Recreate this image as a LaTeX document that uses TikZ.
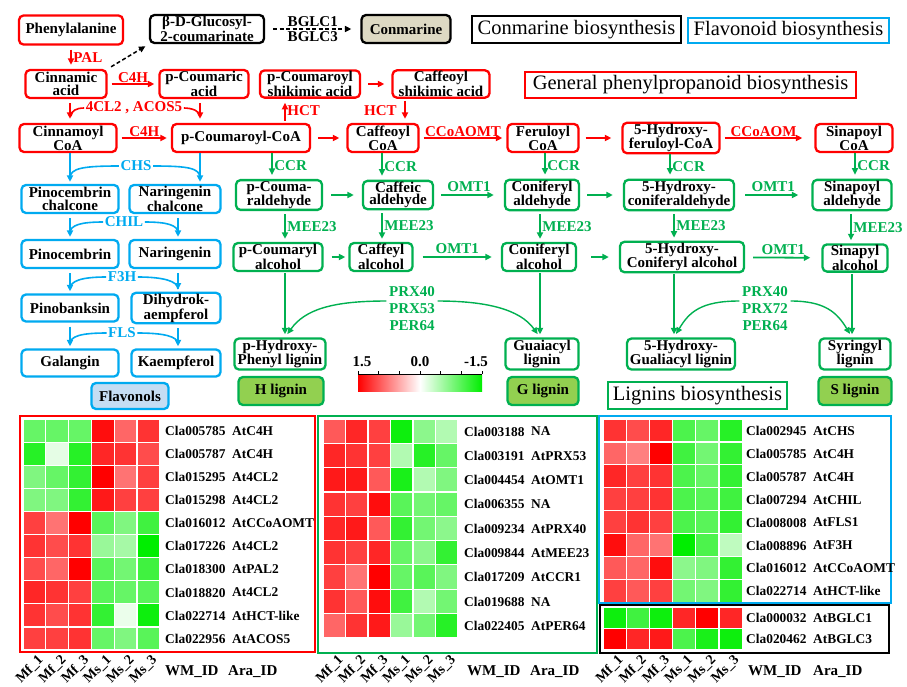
\documentclass[tikz,border=0pt]{standalone}
\usepackage{fontspec}
\setmainfont{Liberation Serif}
\usetikzlibrary{arrows.meta,calc}
\definecolor{cR}{RGB}{255,0,0}
\definecolor{cB}{RGB}{0,170,240}
\definecolor{cG}{RGB}{0,176,80}
\definecolor{hmR}{RGB}{255,0,0}
\definecolor{hmG}{RGB}{0,238,0}
\definecolor{cTan}{RGB}{221,217,195}
\definecolor{cLB}{RGB}{197,221,243}
\definecolor{cLG}{RGB}{146,208,80}
\newcommand\fb{\fontsize{15}{12.5}\selectfont\bfseries}
\newcommand\fen{\fontsize{15}{17}\selectfont\bfseries}
\newcommand\fcl{\fontsize{14}{15}\selectfont\bfseries}
\newcommand\ftt{\fontsize{20.5}{22}\selectfont}
\newcommand\fhm{\fontsize{13.4}{15}\selectfont\bfseries}
\newcommand\hmcell[5]{%
  \pgfmathsetmacro\hmp{abs(#5)*100}%
  \ifdim #5pt>0pt \def\hmcn{hmR}\else\def\hmcn{hmG}\fi
  \edef\hmcol{\hmcn!\hmp!white}%
  \filldraw[fill=\hmcol,draw=white,line width=1.2] (#1,#2) rectangle ++(#3,#4);}
\newcommand\hmpanel[5]{%
  \foreach \hmrow [count=\hr from 0] in {#5} {%
    \foreach \hv [count=\hc from 0] in \hmrow {%
      \hmcell{#1+\hc*#3}{#2+\hr*#4}{#3}{#4}{\hv}}}}
\begin{document}
\begin{tikzpicture}[x=1pt,y=-1pt,
  pbox/.style={rounded corners=4.5, line width=2.3, fill=white, align=center, font=\fb, inner sep=1pt},
  rbox/.style={pbox,draw=cR},
  bbox/.style={pbox,draw=cB},
  gbox/.style={pbox,draw=cG},
  kbox/.style={pbox,draw=black},
  tbox/.style={draw, line width=1.3, font=\ftt, inner sep=2pt},
  boxsz/.style n args={2}{minimum width=#1, minimum height=#2},
  arr/.style={line width=1.8, -{Triangle[length=6.5pt,width=6pt]}, shorten >=4, shorten <=4},
  rarr/.style={arr,cR}, garr/.style={arr,cG}, barr/.style={arr,cB},
  ren/.style={font=\fen, text=cR, inner sep=1.5},
  gen/.style={font=\fen, text=cG, inner sep=1.5},
  ben/.style={font=\fen, text=cB, inner sep=1.5},
  ken/.style={font=\fen, text=black, inner sep=1.5},
  hook/.style={line width=1.6},
  hml/.style={font=\fhm, anchor=west, inner sep=0},
  hmh/.style={font=\fen, anchor=west, inner sep=0},
  collab/.style={font=\fcl, rotate=45, anchor=east, inner sep=0},
]
\useasboundingbox[fill=white] (0,0) rectangle (907,686);

% ---------- title boxes
\node[tbox,draw=black,boxsz={209}{27}] (t1) at (576.5,29.5) {Conmarine biosynthesis};
\node[tbox,draw=cB,boxsz={201}{25}] (t2) at (788.5,30.5) {Flavonoid biosynthesis};
\node[tbox,draw=cR,boxsz={331}{26}] (t3) at (690.5,85) {General phenylpropanoid biosynthesis};
\node[tbox,draw=cG,boxsz={179}{27}] (t4) at (697.5,395.5) {Lignins biosynthesis};

% ---------- red / black nodes
\node[rbox,boxsz={104}{29}] (ph) at (71,30) {Phenylalanine};
\node[kbox,boxsz={114}{28}] (bdg) at (207,29) {β-D-Glucosyl-\\2-coumarinate};
\node[kbox,fill=cTan,boxsz={89}{28}] (con) at (406,29) {Conmarine};
\node[rbox,boxsz={81}{28}] (cin) at (66,84) {Cinnamic\\acid};
\node[rbox,boxsz={89}{28}] (pca) at (204,84) {p-Coumaric\\acid};
\node[rbox,boxsz={100}{27}] (pcs) at (310,84) {p-Coumaroyl\\shikimic acid};
\node[rbox,boxsz={97}{27}] (csa) at (441,84) {Caffeoyl\\shikimic acid};
\node[rbox,boxsz={97}{28}] (cinco) at (68,138) {Cinnamoyl\\CoA};
\node[rbox,boxsz={138}{28}] (pcoa) at (241,138) {p-Coumaroyl-CoA};
\node[rbox,boxsz={71}{28}] (cco) at (383,138) {Caffeoyl\\CoA};
\node[rbox,boxsz={71}{28}] (fco) at (543,138) {Feruloyl\\CoA};
\node[rbox,boxsz={97}{28}] (hfco) at (671,138) {5-Hydroxy-\\feruloyl-CoA};
\node[rbox,boxsz={77}{28}] (sco) at (854,138) {Sinapoyl\\CoA};

% ---------- blue nodes
\node[bbox,boxsz={97}{28}] (pch) at (70,199) {Pinocembrin\\chalcone};
\node[bbox,boxsz={91}{28}] (nch) at (175,199) {Naringenin\\chalcone};
\node[bbox,boxsz={97}{28}] (pin) at (70,254) {Pinocembrin};
\node[bbox,boxsz={91}{28}] (nar) at (175,254) {Naringenin};
\node[bbox,boxsz={97}{27}] (pnb) at (70,308) {Pinobanksin};
\node[bbox,boxsz={89}{27}] (dhk) at (176,308) {Dihydrok-\\aempferol};
\node[bbox,boxsz={97}{27}] (gal) at (70,363) {Galangin};
\node[bbox,boxsz={89}{27}] (kae) at (176,363) {Kaempferol};
\node[bbox,fill=cLB,boxsz={77}{26}] (flv) at (130,396) {Flavonols};

% ---------- green nodes
\node[gbox,boxsz={86}{28}] (pcald) at (279,195) {p-Couma-\\raldehyde};
\node[gbox,boxsz={70}{28}] (cald) at (398,195) {Caffeic\\aldehyde};
\node[gbox,boxsz={74}{28}] (coald) at (542,195) {Coniferyl\\aldehyde};
\node[gbox,boxsz={110}{28}] (hcald) at (679,195) {5-Hydroxy-\\coniferaldehyde};
\node[gbox,boxsz={79}{28}] (sald) at (852,195) {Sinapoyl\\aldehyde};
\node[gbox,boxsz={89}{28}] (pcal) at (278,257) {p-Coumaryl\\alcohol};
\node[gbox,boxsz={63}{28}] (caal) at (381,257) {Caffeyl\\alcohol};
\node[gbox,boxsz={74}{28}] (coal) at (539,257) {Coniferyl\\alcohol};
\node[gbox,boxsz={124}{28}] (hcal) at (682,257) {5-Hydroxy-\\Coniferyl alcohol};
\node[gbox,boxsz={65}{27}] (sal) at (855,258) {Sinapyl\\alcohol};
\node[gbox,boxsz={91}{31}] (hpl) at (280,354) {p-Hydroxy-\\Phenyl lignin};
\node[gbox,boxsz={73}{31}] (gl) at (542,354) {Guaiacyl\\lignin};
\node[gbox,boxsz={108}{31}] (hgl) at (681,354) {5-Hydroxy-\\Gualiacyl lignin};
\node[gbox,boxsz={71}{31}] (syl) at (855,354) {Syringyl\\lignin};
\node[gbox,fill=cLG,boxsz={85}{28}] (Hl) at (281,391) {H lignin};
\node[gbox,fill=cLG,boxsz={71}{28}] (Gl) at (543,391) {G lignin};
\node[gbox,fill=cLG,boxsz={73}{28}] (Sl) at (855,391) {S lignin};

% ---------- red arrows
\draw[rarr] (71,0 |- ph.south) -- (71,0 |- cin.north) node[midway,right,ren] {PAL};
\draw[arr,black,line width=1.5,dash pattern=on 4pt off 2.5pt] (cin.north east) -- (bdg.south west);
\draw[arr,black,line width=1.5,dash pattern=on 4pt off 2.5pt,shorten <=8,shorten >=9] (bdg.east) -- (con.west)
  node[midway,above,ken] {BGLC1} node[midway,below,ken] {BGLC3};
\draw[rarr] (cin) -- (pca) node[midway,above,ren,inner sep=0.5] {C4H};
\draw[rarr,shorten <=7,shorten >=7] (pcs) -- (csa);
\draw[rarr] (cinco) -- (pcoa) node[midway,above,ren,inner sep=0.5] {C4H};
\draw[rarr,shorten <=7,shorten >=7] (pcoa) -- (cco);
\draw[rarr] (cco) -- (fco) node[midway,above,ren,inner sep=0.5] {CCoAOMT};
\draw[rarr,shorten <=6,shorten >=10] (fco) -- (hfco);
\draw[rarr,shorten >=12] (hfco) -- (sco) node[midway,above,ren,inner sep=0.5,xshift=-4] {CCoAOM};
\draw[rarr] (70,0 |- cin.south) -- (70,0 |- cinco.north);
\draw[rarr] (200,0 |- pca.south) -- (200,0 |- pcoa.north);
\node[ren] (l4cl) at (134,108) {4CL2 , ACOS5};
\draw[hook,cR] (l4cl.west) .. controls +(-8,0) and +(0,-5) .. (71,116);
\draw[hook,cR] (l4cl.east) .. controls +(8,0) and +(0,-5) .. (200,116);
\draw[rarr,shorten <=2] (285,0 |- pcoa.north) -- (285,0 |- pcs.south) node[midway,right,ren] {HCT};
\draw[rarr,shorten <=2] (405,0 |- csa.south) -- (405,0 |- cco.north) node[midway,left,ren,xshift=-6] {HCT};

% ---------- blue arrows
\draw[barr,shorten <=0,shorten >=2] (70,0 |- cinco.south) -- (70,0 |- pch.north);
\draw[barr,shorten <=0,shorten >=2] (200,0 |- pcoa.south) -- (200,0 |- nch.north);
\node[ben] (chs) at (136,166) {CHS};
\draw[hook,cB] (chs.west) .. controls +(-35,0) and +(0,-10) .. (70,178);
\draw[hook,cB] (chs.east) .. controls +(35,0) and +(0,-10) .. (200,178);
\draw[barr,shorten >=2] (70,0 |- pch.south) -- (70,0 |- pin.north);
\draw[barr,shorten >=2] (178,0 |- nch.south) -- (178,0 |- nar.north);
\node[ben] (chil) at (124,222) {CHIL};
\draw[hook,cB] (chil.west) .. controls +(-22,0) and +(0,-8) .. (70,233);
\draw[hook,cB] (chil.east) .. controls +(22,0) and +(0,-8) .. (178,233);
\draw[barr,shorten >=2] (70,0 |- pin.south) -- (70,0 |- pnb.north);
\draw[barr,shorten >=2] (178,0 |- nar.south) -- (178,0 |- dhk.north);
\node[ben] (f3h) at (122,277) {F3H};
\draw[hook,cB] (f3h.west) .. controls +(-25,0) and +(0,-8) .. (70,289);
\draw[hook,cB] (f3h.east) .. controls +(25,0) and +(0,-8) .. (178,289);
\draw[barr,shorten >=2] (70,0 |- pnb.south) -- (70,0 |- gal.north);
\draw[barr,shorten >=2] (178,0 |- dhk.south) -- (178,0 |- kae.north);
\node[ben] (fls) at (122,333) {FLS};
\draw[hook,cB] (fls.west) .. controls +(-25,0) and +(0,-8) .. (70,344);
\draw[hook,cB] (fls.east) .. controls +(25,0) and +(0,-8) .. (178,344);

% ---------- green arrows
\draw[garr,shorten <=0] (272,0 |- pcoa.south) -- (272,0 |- pcald.north) node[midway,right,gen] {CCR};
\draw[garr,shorten <=0] (382,0 |- cco.south) -- (382,0 |- cald.north) node[midway,right,gen] {CCR};
\draw[garr,shorten <=0] (545,0 |- fco.south) -- (545,0 |- coald.north) node[midway,right,gen] {CCR};
\draw[garr,shorten <=0] (670,0 |- hfco.south) -- (670,0 |- hcald.north) node[midway,right,gen] {CCR};
\draw[garr,shorten <=0] (855,0 |- sco.south) -- (855,0 |- sald.north) node[midway,right,gen] {CCR};
\draw[garr,shorten <=8,shorten >=8] (pcald) -- (cald);
\draw[garr,shorten <=7,shorten >=10] (cald) -- (coald) node[midway,above,gen,inner sep=2] {OMT1};
\draw[garr,shorten <=7,shorten >=10] (coald) -- (hcald);
\draw[garr,shorten <=10,shorten >=13] (hcald) -- (sald) node[midway,above,gen,inner sep=2] {OMT1};
\draw[garr,shorten <=3,shorten >=3] (285,0 |- pcald.south) -- (285,0 |- pcal.north) node[midway,right,gen] {MEE23};
\draw[garr,shorten <=3,shorten >=3] (382,0 |- cald.south) -- (382,0 |- caal.north) node[midway,right,gen] {MEE23};
\draw[garr,shorten <=3,shorten >=3] (540,0 |- coald.south) -- (540,0 |- coal.north) node[midway,right,gen] {MEE23};
\draw[garr,shorten <=3,shorten >=3] (674,0 |- hcald.south) -- (674,0 |- hcal.north) node[midway,right,gen] {MEE23};
\draw[garr,shorten <=3,shorten >=3] (851,0 |- sald.south) -- (851,0 |- sal.north) node[midway,right,gen] {MEE23};
\draw[garr,shorten <=8,shorten >=3] (pcal) -- (caal);
\draw[garr,shorten <=9,shorten >=9] (caal) -- (coal) node[midway,above,gen,inner sep=2] {OMT1};
\draw[garr,shorten <=14,shorten >=10] (coal) -- (hcal);
\draw[garr,shorten <=8,shorten >=11] (hcal) -- (sal) node[midway,above,gen,inner sep=2] {OMT1};
\draw[garr,shorten <=1,shorten >=3] (285,0 |- pcal.south) -- (285,0 |- hpl.north);
\draw[garr,shorten <=1,shorten >=3] (540,0 |- coal.south) -- (540,0 |- gl.north);
\draw[garr,shorten <=1,shorten >=3] (674,0 |- hcal.south) -- (674,0 |- hgl.north);
\draw[garr,shorten <=1,shorten >=3] (852,0 |- sal.south) -- (852,0 |- syl.north);
\node[gen,align=center] (prxa) at (412,309) {PRX40\\PRX53\\PER64};
\node[gen,align=center] (prxb) at (765,309) {PRX40\\PRX72\\PER64};
\draw[garr,line width=1.4,shorten <=1] ([yshift=8]prxa.west) .. controls +(-55,0) and +(20,-28) .. (285,0 |- hpl.north);
\draw[garr,line width=1.4,shorten <=1] ([yshift=8]prxa.east) .. controls +(50,0) and +(-20,-28) .. (540,0 |- gl.north);
\draw[garr,line width=1.4,shorten <=1] ([yshift=8]prxb.west) .. controls +(-40,0) and +(15,-25) .. (674,0 |- hgl.north);
\draw[garr,line width=1.4,shorten <=1] ([yshift=8]prxb.east) .. controls +(35,0) and +(-15,-25) .. (852,0 |- syl.north);

% ---------- colour bar
\shade[left color=hmR,right color=hmG,middle color=white] (358,375) rectangle (482,391);
\draw[line width=0.7] (358,374) -- (482,374);
\foreach \ti in {0,...,6} \draw[line width=0.7] (358+\ti*20.67,374) -- ++(0,-3);
\node[ken] (cb1) at (362,362) {1.5};
\node[ken] (cb2) at (420,362) {0.0};
\node[ken] (cb3) at (476,362) {-1.5};

% ---------- heatmap panel 1
\hmpanel{23}{419}{22.8}{23.1}{{-.6,-.6,-.6,.95,.6,.8},{-.85,-.1,-.85,.85,.8,.7},{-.5,-.6,-.8,1,.55,.75},{-.5,-.5,-.8,.9,.75,.75},{.75,.55,1,-.65,-.5,-.75},{.8,.7,.8,-.4,-.35,-1},{.7,.6,1,-.65,-.55,-.75},{.85,.8,.75,-.65,-.6,-.65},{.8,.7,.8,-.8,-.08,-.95},{.75,.75,.8,-.6,-.5,-.65}}
\draw[cR,line width=2] (20,416) rectangle (315,652);
\foreach \ia/\ib [count=\hi from 0] in {Cla005785/AtC4H,Cla005787/AtC4H,Cla015295/At4CL2,Cla015298/At4CL2,Cla016012/AtCCoAOMT,Cla017226/At4CL2,Cla018300/AtPAL2,Cla018820/At4CL2,Cla022714/AtHCT-like,Cla022956/AtACOS5}{
  \node[hml] (pa\hi) at (165,419+\hi*23.1+11.8) {\ia};
  \node[hml] (pb\hi) at (232,419+\hi*23.1+11.8) {\ib};}

% ---------- heatmap panel 2
\hmpanel{323}{419}{22.5}{24.3}{{.65,.85,.75,-.95,-.45,-.3},{.85,.8,.75,-.3,-.85,-.6},{.9,.9,.65,-.9,-.3,-.5},{.8,.75,.95,-.65,-.55,-.6},{.85,.9,.65,-.8,-.55,-.45},{.8,.75,.85,-.6,-.45,-.8},{.75,.55,1,-.6,-.65,-.5},{.8,.65,.95,-.75,-.3,-.55},{.6,.8,.9,-.4,-.55,-.85}}
\draw[cG,line width=2] (318,416) rectangle (597,653);
\foreach \ia/\ib [count=\hi from 0] in {Cla003188/NA,Cla003191/AtPRX53,Cla004454/AtOMT1,Cla006355/NA,Cla009234/AtPRX40,Cla009844/AtMEE23,Cla017209/AtCCR1,Cla019688/NA,Cla022405/AtPER64}{
  \node[hml] (qa\hi) at (464,419+\hi*24.3+12.5) {\ia};
  \node[hml] (qb\hi) at (531,419+\hi*24.3+12.5) {\ib};}

% ---------- heatmap panel 3
\hmpanel{603}{419}{23.2}{22.9}{{.8,.7,.85,-.7,-.6,-.85},{.6,.5,1,-.75,-.55,-.8},{.85,.75,.8,-.7,-.6,-.8},{.75,.75,.8,-.7,-.65,-.75},{.75,.8,.75,-.7,-.65,-.8},{.95,.6,.55,-1,-.7,-.25},{.65,.6,.95,-.45,-.5,-.8},{.75,.65,.75,-.55,-.5,-.8}}
\hmpanel{603}{607}{23.2}{21.3}{{-.95,-.75,-.95,.85,1,.85},{1,.85,.9,-.7,-.9,-.95}}
\draw[cB,line width=2] (599,416) rectangle (891,603);
\draw[black,line width=2] (600,605) rectangle (889,653);
\foreach \ia/\ib [count=\hi from 0] in {Cla002945/AtCHS,Cla005785/AtC4H,Cla005787/AtC4H,Cla007294/AtCHIL,Cla008008/AtFLS1,Cla008896/AtF3H,Cla016012/AtCCoAOMT,Cla022714/AtHCT-like}{
  \node[hml] (ra\hi) at (746,419+\hi*22.9+12) {\ia};
  \node[hml] (rb\hi) at (813,419+\hi*22.9+12) {\ib};}
\foreach \ia/\ib [count=\hi from 0] in {Cla000032/AtBGLC1,Cla020462/AtBGLC3}{
  \node[hml] (sa\hi) at (746,607+\hi*21.3+11) {\ia};
  \node[hml] (sb\hi) at (813,607+\hi*21.3+11) {\ib};}

% ---------- column labels
\foreach \s [count=\hc from 0] in {Mf\_1,Mf\_2,Mf\_3,Ms\_1,Ms\_2,Ms\_3}{
  \node[collab] (ca\hc) at (23+\hc*22.8+18,658) {\s};
  \node[collab] (cb\hc) at (323+\hc*22.5+18,658) {\s};
  \node[collab] (cc\hc) at (603+\hc*23.2+18,658) {\s};}
\node[hmh] (wm1) at (165,672) {WM\_ID};
\node[hmh] (ar1) at (228,672) {Ara\_ID};
\node[hmh] (wm2) at (467,672) {WM\_ID};
\node[hmh] (ar2) at (530,672) {Ara\_ID};
\node[hmh] (wm3) at (748,672) {WM\_ID};
\node[hmh] (ar3) at (813,672) {Ara\_ID};
\end{tikzpicture}
\end{document}
